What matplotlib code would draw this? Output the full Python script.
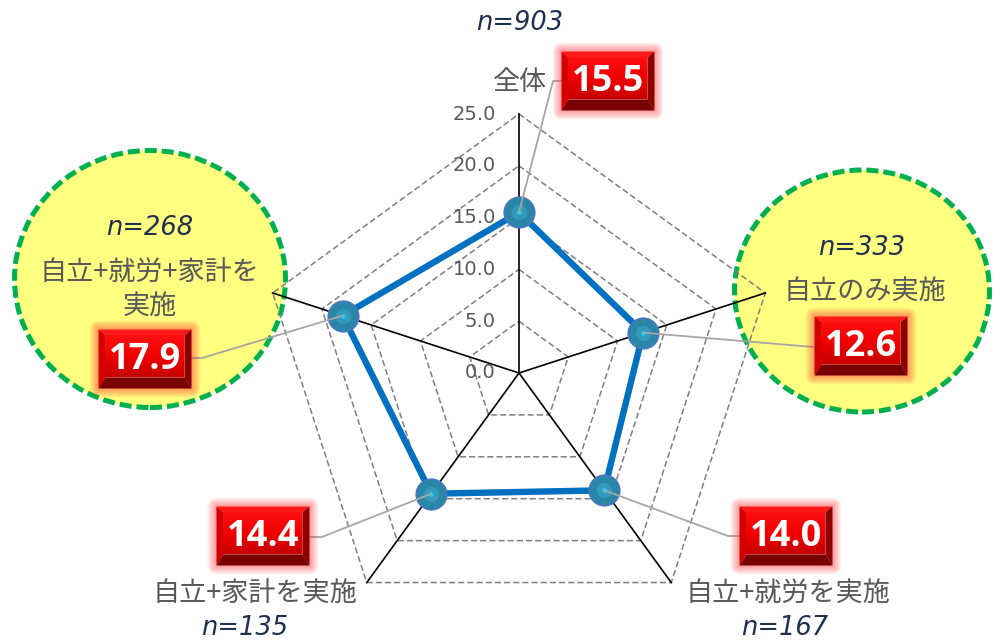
import numpy as np
import matplotlib
matplotlib.use("Agg")
import matplotlib.pyplot as plt
from matplotlib.patches import Ellipse, Polygon, FancyBboxPatch
from matplotlib.colors import LinearSegmentedColormap

# ---------------- data ----------------
categories = ["全体", "自立のみ実施", "自立+就労を実施", "自立+家計を実施", "自立+就労+家計を\n実施"]
values = [15.5, 12.6, 14.0, 14.4, 17.9]
n_labels = ["n=903", "n=333", "n=167", "n=135", "n=268"]
ticks = [0, 5, 10, 15, 20, 25]
tick_labels = ["0.0", "5.0", "10.0", "15.0", "20.0", "25.0"]
value_labels = ["15.5", "12.6", "14.0", "14.4", "17.9"]

# ---------------- layout helpers (pixel -> data) ----------------
W, H = 994, 643
RMAX = 25
S = 259 / RMAX          # pixels per unit
CX, CY = 519, 373       # chart centre in pixels


def P(px, py):
    return ((px - CX) / S, (CY - py) / S)


fig = plt.figure(figsize=(W / 100, H / 100), dpi=100)
ax = fig.add_axes([0, 0, 1, 1])
ax.set_xlim(-CX / S, (W - CX) / S)
ax.set_ylim(-(H - CY) / S, CY / S)
ax.axis("off")

angles = np.deg2rad(90 - 72 * np.arange(len(categories)))
cosA, sinA = np.cos(angles), np.sin(angles)

JP = ["Noto Sans CJK JP", "DejaVu Sans"]
GRAY_TXT = "#595959"
NAVY = "#1F2F4F"

# ---------------- yellow highlight circles ----------------
for (cx, cy, w, h) in [(150, 279, 271, 257), (862, 291, 255, 242)]:
    ax.add_patch(Ellipse(P(cx, cy), w / S, h / S, facecolor="#FFFF80",
                         edgecolor="#00B050", lw=3.6,
                         linestyle=(0, (2.4, 1.0)), zorder=1))

# ---------------- grid pentagons ----------------
for t in ticks[1:]:
    xs = np.append(t * cosA, t * cosA[0])
    ys = np.append(t * sinA, t * sinA[0])
    ax.plot(xs, ys, color="#7F7F7F", lw=1.1, linestyle=(0, (4, 2)), zorder=2)

# spokes
for ca, sa in zip(cosA, sinA):
    ax.plot([0, RMAX * ca], [0, RMAX * sa], color="black", lw=1.2, zorder=3)

# tick labels
for t, lab in zip(ticks, tick_labels):
    x, y = P(496, 0)
    ax.text(x, t, lab, ha="right", va="center", fontsize=14,
            color=GRAY_TXT, family="DejaVu Sans", zorder=4)

# ---------------- data line ----------------
vals = np.array(values)
px_ = vals * cosA
py_ = vals * sinA
ax.plot(np.append(px_, px_[0]), np.append(py_, py_[0]), color="#0070C0",
        lw=4.6, zorder=5, solid_joinstyle="miter")
ax.plot(px_, py_, linestyle="none", marker="o", markersize=22,
        markerfacecolor="#2A86A6", markeredgecolor="#4A78C0",
        markeredgewidth=1.2, zorder=6)
ax.plot(px_, py_, linestyle="none", marker="o", markersize=11,
        markerfacecolor="#36A0C4", markeredgecolor="none", alpha=0.8, zorder=6)
ax.plot(px_, py_, linestyle="none", marker="o", markersize=3.5,
        markerfacecolor="#22C8F0", markeredgecolor="none", zorder=6)

# ---------------- leader lines ----------------
leader_pts = [
    [(553, 81), (562, 81)],
    [(813, 347)],
    [(728, 536), (740, 536)],
    [(322, 537), (311, 537)],
    [(202, 358), (191, 358)],
]
for i, pts in enumerate(leader_pts):
    xs = [px_[i]] + [P(*p)[0] for p in pts]
    ys = [py_[i]] + [P(*p)[1] for p in pts]
    ax.plot(xs, ys, color="#A6A6A6", lw=1.3, zorder=7)

# ---------------- red value boxes ----------------
box_centres = [(608, 81), (861, 346), (786, 536), (263, 536), (145, 359)]
BW, BH = 93, 59
cmap = LinearSegmentedColormap.from_list("r", ["#C80000", "#F00000", "#FF1010"])


def red_box(cx, cy, label):
    x0, y0 = P(cx - BW / 2, cy + BH / 2)
    x1, y1 = P(cx + BW / 2, cy - BH / 2)
    # glow
    for k in range(8, 0, -1):
        pad = k * 1.1 / S
        ax.add_patch(FancyBboxPatch((x0, y0), x1 - x0, y1 - y0,
                                    boxstyle=f"round,pad={pad},rounding_size={pad}",
                                    facecolor="#FF3030", edgecolor="none",
                                    alpha=0.07, zorder=8))
    bt, bs, bb = 6 / S, 7 / S, 11 / S
    ix0, ix1, iy0, iy1 = x0 + bs, x1 - bs, y0 + bb, y1 - bt
    ax.add_patch(Polygon([(x0, y1), (x1, y1), (ix1, iy1), (ix0, iy1)],
                         closed=True, facecolor="#FF1A1A", edgecolor="none", zorder=9))
    ax.add_patch(Polygon([(x0, y0), (x0, y1), (ix0, iy1), (ix0, iy0)],
                         closed=True, facecolor="#D40000", edgecolor="none", zorder=9))
    ax.add_patch(Polygon([(x1, y0), (x1, y1), (ix1, iy1), (ix1, iy0)],
                         closed=True, facecolor="#8E0000", edgecolor="none", zorder=9))
    ax.add_patch(Polygon([(x0, y0), (x1, y0), (ix1, iy0), (ix0, iy0)],
                         closed=True, facecolor="#780000", edgecolor="none", zorder=9))
    grad = np.linspace(0, 1, 50).reshape(-1, 1)
    ax.imshow(grad, extent=(ix0, ix1, iy0, iy1), origin="lower", cmap=cmap,
              aspect="auto", zorder=9.5, interpolation="bilinear")
    ax.text((x0 + x1) / 2, (y0 + y1) / 2 - 1 / S, label, ha="center", va="center",
            fontsize=26, fontweight="bold", color="white",
            family=["Open Sans", "DejaVu Sans"], zorder=10)


for (cx, cy), lab in zip(box_centres, value_labels):
    red_box(cx, cy, lab)

# ---------------- category labels ----------------
cat_pos = [(519, 82), (865, 291), (788, 593), (255, 593), (150, 290)]
for (cx, cy), lab in zip(cat_pos, categories):
    ax.text(*P(cx, cy), lab, ha="center", va="center", fontsize=19.5,
            color=GRAY_TXT, family=JP, linespacing=1.3, zorder=11)

n_pos = [(520, 23), (862, 248), (785, 628), (245, 628), (150, 228)]
for (cx, cy), lab in zip(n_pos, n_labels):
    ax.text(*P(cx, cy), lab, ha="center", va="center", fontsize=18.5,
            style="italic", color=NAVY, family="DejaVu Sans", zorder=11)

fig.savefig("out.png", dpi=100)
